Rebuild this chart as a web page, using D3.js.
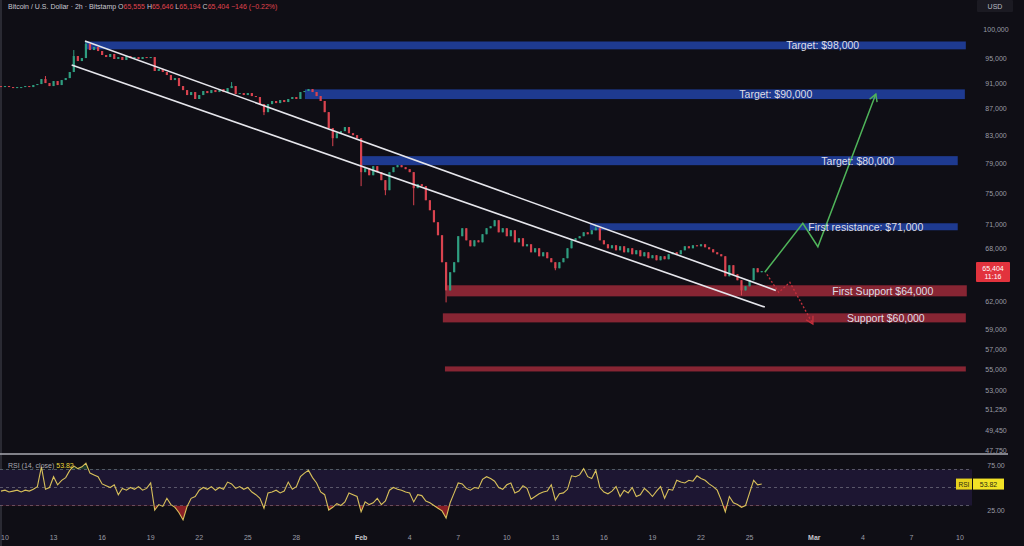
<!DOCTYPE html>
<html><head><meta charset="utf-8">
<script src="https://cdn.jsdelivr.net/npm/d3@7"></script>
<style>
html,body{margin:0;padding:0;background:#0f0e15;overflow:hidden}
svg{display:block}
text{font-family:"Liberation Sans",Arial,sans-serif}
</style>
</head><body><svg id="c" width="1024" height="546"></svg>
<script>
// ---------- DATA ----------
// 6-hour candles starting 2026-01-09 18:00 UTC (closes; open = previous close)
const firstOpen = 90550;
const closes = [
90390,90550,90390,90230,90390,90390,90550,90390,90710,90870,
91670,91030,90550,91350,90710,91510,91830,92810,95460,94620,
95120,97500,96470,96980,96300,95630,95290,95800,94960,95290,
94790,95460,95120,95290,94960,95290,95120,95290,92980,93300,
92810,92320,91510,91830,90550,89910,89130,89600,88510,89130,
89760,89440,89910,89600,90070,89600,90230,90550,89290,89440,
89130,89440,88970,88820,87720,86490,87720,88200,87880,88350,
88040,88510,88820,88510,89600,89760,90070,89600,88970,88200,
86490,84100,82620,83350,83650,84250,83350,83060,82620,77830,
78370,77410,78650,77830,76740,75400,77830,78510,78790,78510,
78240,77830,75670,76200,75940,74080,72790,71270,69660,66430,
63220,65270,66430,69540,70520,69040,68320,69040,68800,69780,
70520,70770,71520,70020,70520,69540,70270,68800,69290,68320,
68560,67600,68080,67130,67600,66900,66430,65730,66430,66900,
68080,69040,69290,69540,70020,69780,70270,70520,69040,68560,
68080,68440,67840,68320,67600,68080,67370,67840,67130,67600,
66900,67250,66660,67130,66780,67370,67600,67370,67840,68320,
68080,68440,68320,68560,68200,67960,67600,67370,67130,64810,
66080,65040,64360,63220,63680,64360,65730,65270,65404
];
// notable wicks: [candle index, high, low]
const wicks = [
[11,92160,null],[18,96470,null],[21,98010,null],[57,91190,null],[65,null,86040],
[82,null,81470],[89,null,75940],[95,null,74740],[102,null,73430],[110,null,61900],
[137,null,65500],[147,70890,null],[183,null,62670]
];
// RSI(14) sampled at the same candles
const rsiValues = [
46,47,45,46,47,45,47,46,48,51,
73,48,50,62,53,58,61,69,74,71,
73,77,66,64,62,54,52,50,53,42,
49,47,50,48,51,47,49,55,25,31,
29,38,31,28,22,14,29,38,40,47,
50,48,51,47,50,48,56,54,49,51,
48,50,45,42,38,27,44,45,47,44,
46,56,48,51,62,66,69,61,55,45,
42,25,28,32,30,34,44,42,40,23,
34,31,33,38,31,35,47,50,48,47,
45,44,34,42,41,35,33,30,27,24,
16,33,44,55,54,49,47,50,49,59,
62,60,57,50,48,53,55,44,46,52,
49,37,40,43,45,46,53,36,43,44,
48,63,62,64,71,62,60,69,50,45,
43,46,51,40,47,44,50,40,42,49,
45,40,46,51,38,48,47,58,56,55,
58,57,63,60,58,54,51,47,36,23,
40,33,31,28,30,44,58,53,53.82
];
const priceTicks = [100000,95000,91000,87000,83000,79000,75000,71000,68000,62000,59000,57000,55000,53000,51250,49450,47750];
const rsiTicks = [75, 25];
const rsiLevels = [70, 50, 30];
const dateTicks = ["2026-01-10","2026-01-13","2026-01-16","2026-01-19","2026-01-22","2026-01-25","2026-01-28","2026-02-01","2026-02-04","2026-02-07","2026-02-10","2026-02-13","2026-02-16","2026-02-19","2026-02-22","2026-02-25","2026-03-01","2026-03-04","2026-03-07","2026-03-10"];
const dateLabels = ["10","13","16","19","22","25","28","Feb","4","7","10","13","16","19","22","25","Mar","4","7","10"];
// zones: price range, start/end in days after Jan 10, label position (days)
const zoneLabels = ["Target: $98,000","Target: $90,000","Target: $80,000","First resistance: $71,000","First Support $64,000","Support $60,000",""];
const zoneTop    = [97930, 90020, 80050, 71140, 63790, 60720, 55310];
const zoneBottom = [96590, 88500, 78790, 70270, 62560, 59760, 54820];
const zoneStart  = [4.94, 18.53, 22.05, 36.13, 27.3, 27.05, 27.18];
const zoneEnd    = [59.36, 59.3, 58.86, 58.86, 59.42, 59.36, 59.36];
const zoneLabelAt= [50.52, 47.62, 52.69, 53.18, 54.23, 54.42, 0];
const zoneKind   = ["res","res","res","res","sup","sup","sup"];
// channel lines: [days, price]
const upperLine = [[4.94,98010],[47.62,63220]];
const lowerLine = [[4.12,93960],[46.94,61390]];
// projected paths
const bullPath = [[46.94,65260],[49.29,71140],[50.22,68260],[53.8,89280]];
const bearPath = [[47.07,65030],[47.8,63000],[48.49,64120],[49.91,59600]];
const lastPrice = 65404, lastRsi = 53.82;

// ---------- SCALES ----------
const svg = d3.select("#c");
const W = 1024, H = 546;
const T0 = Date.UTC(2026,0,10);
const dayAt = d => new Date(T0 + d*864e5);
const candleTime = i => new Date(Date.UTC(2026,0,9,18) + i*6*3600e3);
const x = d3.scaleUtc().domain([new Date("2026-01-10T00:00Z"), new Date("2026-03-10T00:00Z")]).range([5, 960]);
const y = d3.scaleLog().domain([47750, 100000]).range([450, 29.6]);
const yr = d3.scaleLinear().domain([0, 100]).range([532.5, 442.5]);

svg.append("rect").attr("width",W).attr("height",H).attr("fill","#0f0e15");
svg.append("line").attr("x1",1).attr("x2",1).attr("y1",0).attr("y2",H).attr("stroke","#2a2a33").attr("stroke-width",2);

const defs = svg.append("defs");
defs.append("clipPath").attr("id","pane").append("rect").attr("x",0).attr("y",16).attr("width",975).attr("height",437);

// zones
const gz = svg.append("g");
zoneTop.forEach((t,k)=>{
  const x0 = x(dayAt(zoneStart[k])), x1 = x(dayAt(zoneEnd[k]));
  gz.append("rect").attr("x",x0).attr("width",x1-x0)
    .attr("y",y(t)).attr("height",y(zoneBottom[k])-y(t))
    .attr("fill", zoneKind[k]==="res" ? "#1e3a90" : "#872533");
});

// candles
const gc = svg.append("g").attr("clip-path","url(#pane)");
const cw = 2.2;
closes.forEach((c,i)=>{
  const o = i===0 ? firstOpen : closes[i-1];
  let hi = Math.max(o,c), lo = Math.min(o,c);
  const w = wicks.find(d=>d[0]===i);
  if (w){ if (w[1]!==null) hi = Math.max(hi,w[1]); if (w[2]!==null) lo = Math.min(lo,w[2]); }
  const col = c >= o ? "#2f9e80" : "#d9434f";
  const cx = x(candleTime(i));
  gc.append("line").attr("x1",cx).attr("x2",cx).attr("y1",y(hi)).attr("y2",y(lo)).attr("stroke",col).attr("stroke-width",1);
  const yt = y(Math.max(o,c)), yb = y(Math.min(o,c));
  gc.append("rect").attr("x",cx-cw/2).attr("width",cw).attr("y",yt).attr("height",Math.max(1,yb-yt)).attr("fill",col);
});

// channel lines
const lineGen = d3.line().x(d=>x(dayAt(d[0]))).y(d=>y(d[1]));
[upperLine, lowerLine].forEach(l=>{
  svg.append("path").attr("d",lineGen(l)).attr("fill","none").attr("stroke","#e6e6ec").attr("stroke-width",1.6);
});

// markers
function arrowMarker(id, color){
  defs.append("marker").attr("id",id).attr("viewBox","-10 -6 12 12").attr("refX",0).attr("refY",0)
    .attr("markerWidth",12).attr("markerHeight",12).attr("markerUnits","userSpaceOnUse").attr("orient","auto")
    .append("path").attr("d","M-7,-4 L0,0 L-7,4").attr("fill","none").attr("stroke",color).attr("stroke-width",1.4);
}
arrowMarker("ag","#4fb45a");
arrowMarker("ar","#c4303c");
svg.append("path").attr("d",lineGen(bullPath)).attr("fill","none").attr("stroke","#4fb45a").attr("stroke-width",1.5).attr("marker-end","url(#ag)");
svg.append("path").attr("d",lineGen(bearPath)).attr("fill","none").attr("stroke","#c4303c").attr("stroke-width",1.3).attr("stroke-dasharray","2,2").attr("marker-end","url(#ar)");

// zone labels
zoneLabels.forEach((t,k)=>{
  if(!t) return;
  svg.append("text").attr("x",x(dayAt(zoneLabelAt[k]))).attr("y",(y(zoneTop[k])+y(zoneBottom[k]))/2)
    .attr("text-anchor","middle").attr("dominant-baseline","central")
    .attr("fill","#dedee6").attr("font-size",10.5).text(t);
});

// price axis
const ga = svg.append("g");
priceTicks.forEach(p=>{
  ga.append("text").attr("x",996).attr("y",y(p)).attr("text-anchor","middle").attr("dominant-baseline","central")
    .attr("fill","#9a9ca6").attr("font-size",7).text(d3.format(",")(p));
});
svg.append("rect").attr("x",977).attr("y",0).attr("width",36).attr("height",12).attr("fill","#1b1a22").attr("rx",1);
svg.append("text").attr("x",995).attr("y",6.5).attr("text-anchor","middle").attr("dominant-baseline","central").attr("fill","#b8bac2").attr("font-size",7).text("USD");
// last price box
const ly = y(lastPrice);
svg.append("rect").attr("x",976).attr("y",ly-9).attr("width",34).attr("height",20).attr("fill","#e2333d").attr("rx",1);
svg.append("text").attr("x",993).attr("y",ly-3).attr("text-anchor","middle").attr("dominant-baseline","central").attr("fill","#fff").attr("font-size",7).text(d3.format(",")(lastPrice));
svg.append("text").attr("x",993).attr("y",ly+5).attr("text-anchor","middle").attr("dominant-baseline","central").attr("fill","#fff").attr("font-size",7).text("11:16");

// header
const hd = svg.append("text").attr("x",8).attr("y",9).attr("font-size",7).attr("fill","#c9c9d2");
hd.append("tspan").text("Bitcoin / U.S. Dollar · 2h · Bitstamp  ");
[["O","65,555"],["H","65,646"],["L","65,194"],["C","65,404"]].forEach(([k,v])=>{
  hd.append("tspan").attr("fill","#c9c9d2").text(" "+k);
  hd.append("tspan").attr("fill","#e0444e").text(v);
});
hd.append("tspan").attr("fill","#e0444e").text("  −146 (−0.22%)");

// pane separator
svg.append("line").attr("x1",0).attr("x2",1008).attr("y1",454).attr("y2",454).attr("stroke","#a9a9b0").attr("stroke-width",1.5);

// RSI pane
svg.append("rect").attr("x",0).attr("width",972).attr("y",yr(70)).attr("height",yr(30)-yr(70)).attr("fill","#1d1632");
rsiLevels.forEach(v=>{
  svg.append("line").attr("x1",0).attr("x2",972).attr("y1",yr(v)).attr("y2",yr(v)).attr("stroke","#6a6878").attr("stroke-width",0.8).attr("stroke-dasharray","3,3");
});
defs.append("clipPath").attr("id","below30").append("rect").attr("x",0).attr("y",yr(30)).attr("width",975).attr("height",40);
defs.append("clipPath").attr("id","above70").append("rect").attr("x",0).attr("y",440).attr("width",975).attr("height",yr(70)-440);
const rsiPts = rsiValues.map((v,i)=>[x(candleTime(i)), yr(v)]);
svg.append("path").attr("clip-path","url(#below30)")
  .attr("d", d3.area().x(d=>d[0]).y0(yr(30)).y1(d=>d[1])(rsiPts)).attr("fill","#b3262c").attr("opacity",0.75);
svg.append("path").attr("clip-path","url(#above70)")
  .attr("d", d3.area().x(d=>d[0]).y0(yr(70)).y1(d=>d[1])(rsiPts)).attr("fill","#2e7d4f").attr("opacity",0.4);
svg.append("path").attr("d", d3.line()(rsiPts)).attr("fill","none").attr("stroke","#d8c05a").attr("stroke-width",1.1);

const rl = svg.append("text").attr("x",8).attr("y",465).attr("dominant-baseline","central").attr("font-size",7).attr("fill","#a9a9b3");
rl.append("tspan").text("RSI (14, close) ");
rl.append("tspan").attr("fill","#e8d63a").text(lastRsi.toFixed(2));
rsiTicks.forEach(v=>{
  svg.append("text").attr("x",996).attr("y",yr(v)).attr("text-anchor","middle").attr("dominant-baseline","central")
    .attr("fill","#9a9ca6").attr("font-size",7).text(v.toFixed(2));
});
const by = yr(lastRsi);
svg.append("rect").attr("x",956).attr("y",by-5.5).attr("width",16).attr("height",11).attr("fill","#e6d21e");
svg.append("rect").attr("x",973).attr("y",by-5.5).attr("width",31).attr("height",11).attr("fill","#f2e226");
svg.append("text").attr("x",964).attr("y",by).attr("text-anchor","middle").attr("dominant-baseline","central").attr("font-size",6.5).attr("fill","#2a2a10").text("RSI");
svg.append("text").attr("x",988.5).attr("y",by).attr("text-anchor","middle").attr("dominant-baseline","central").attr("font-size",7).attr("fill","#2a2a10").text(lastRsi.toFixed(2));

// date axis
dateTicks.forEach((d,k)=>{
  const lab = dateLabels[k];
  const bold = (lab==="Feb"||lab==="Mar");
  svg.append("text").attr("x",x(new Date(d+"T00:00Z"))).attr("y",537).attr("text-anchor","middle").attr("dominant-baseline","central")
    .attr("font-size",7).attr("font-weight",bold?"bold":"normal").attr("fill",bold?"#c4c4cc":"#9a9ca6").text(lab);
});
</script></body></html>
